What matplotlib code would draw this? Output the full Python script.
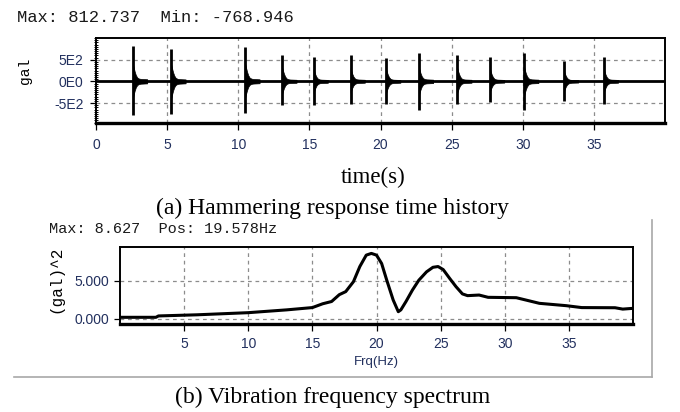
import matplotlib
matplotlib.use("Agg")
import matplotlib.pyplot as plt
from matplotlib.ticker import MultipleLocator
from matplotlib.lines import Line2D

# ---------------- data ----------------
# (a) time history: impact spikes
spike_t = [2.6, 5.3, 10.5, 13.1, 15.3, 17.9, 20.4, 22.7, 25.4, 27.7, 30.1, 32.9, 35.7]
spike_up = [812.7, 750, 795, 614, 568, 614, 545, 660, 614, 568, 660, 477, 568]
spike_dn = [-768.9, -760, -727, -545, -545, -523, -523, -660, -523, -477, -660, -455, -523]
# decay envelope after each impact (time offset s, fraction of peak)
tail_dt = [0.0, 0.06, 0.12, 0.2, 0.3, 0.42, 0.55, 1.0]
tail_rel = [0.5, 0.38, 0.28, 0.18, 0.11, 0.08, 0.07, 0.06]
t_range = [0, 40]
time_xticks = [0, 5, 10, 15, 20, 25, 30, 35]
time_yticks = [-500, 0, 500]
time_ylabels = ["-5E2", "0E0", "5E2"]

# (b) spectrum
freq = [0.0, 2.8, 3.0, 6.0, 10.0, 13.0, 15.0, 15.8, 16.5, 17.1, 17.6, 18.2, 18.7, 19.2,
        19.6, 20.0, 20.4, 20.8, 21.3, 21.7, 21.9, 22.3, 22.8, 23.3, 23.9, 24.4, 24.8,
        25.2, 25.7, 26.2, 26.7, 27.1, 28.0, 28.7, 30.9, 32.7, 34.8, 36.0, 38.6, 39.2, 40.0]
power = [0.22, 0.22, 0.40, 0.55, 0.83, 1.20, 1.50, 2.00, 2.30, 3.20, 3.60, 4.90, 6.90, 8.40,
         8.627, 8.40, 7.30, 5.10, 2.50, 0.96, 1.20, 2.30, 3.80, 5.10, 6.20, 6.80, 6.90,
         6.50, 5.35, 4.25, 3.30, 3.07, 3.15, 2.85, 2.80, 2.06, 1.75, 1.50, 1.48, 1.30, 1.40]
freq_xticks = [5, 10, 15, 20, 25, 30, 35]
freq_yticks = [0, 5]
freq_ylabels = ["0.000", "5.000"]

tick_color = "#22305e"
grid_kw = dict(color="#8c8c8c", linestyle=(0, (3, 3)), linewidth=0.9)

fig = plt.figure(figsize=(6.8, 4.12), dpi=100)
fig.patch.set_facecolor("white")

# ---------------- (a) ----------------
ax1 = fig.add_axes([96/680, 1-123/412, (665-96)/680, (123-38)/412])
ax1.set_xlim(*t_range)
ax1.set_ylim(-960, 1000)
for x in time_xticks[1:]:
    ax1.axvline(x, **grid_kw, zorder=1)
for y in [500, -500]:
    ax1.axhline(y, **grid_kw, zorder=1)
ax1.plot(t_range, [0, 0], color="black", lw=2.0, zorder=3)
for t, up, dn in zip(spike_t, spike_up, spike_dn):
    ax1.vlines(t, dn, up, color="black", lw=2.0, zorder=4)
    tt = [t + d for d in tail_dt]
    ax1.fill_between(tt, [r * dn for r in tail_rel], [r * up for r in tail_rel],
                     color="black", lw=0.5, zorder=4)
ax1.set_xticks(time_xticks)
ax1.set_xticklabels([str(v) for v in time_xticks])
ax1.set_yticks(time_yticks)
ax1.set_yticklabels(time_ylabels)
ax1.yaxis.set_minor_locator(MultipleLocator(50))
ax1.tick_params(axis="y", which="minor", direction="inout", length=3, width=0.7)
ax1.tick_params(axis="x", which="major", labelsize=10, labelcolor=tick_color,
                length=5, width=0.9, pad=6)
ax1.tick_params(axis="y", which="major", labelsize=10, labelcolor=tick_color,
                length=4, width=0.9, pad=5)
for lab in ax1.get_xticklabels() + ax1.get_yticklabels():
    lab.set_family("Liberation Sans")
for s in ["top", "right", "left"]:
    ax1.spines[s].set_linewidth(1.4)
ax1.spines["bottom"].set_linewidth(2.4)
fig.text(17/680, 1-18/412, "Max: 812.737  Min: -768.946", family="Liberation Mono",
         fontsize=12.3, va="center", ha="left", color="#1a1a1a")
fig.text(25/680, 1-71/412, "gal", family="Liberation Mono", fontsize=10.5,
         rotation=90, va="center", ha="center")
fig.text(373/680, 1-177/412, "time(s)", family="Liberation Serif", fontsize=16.5,
         va="center", ha="center")
fig.text(332/680, 1-208/412, "(a) Hammering response time history",
         family="Liberation Serif", fontsize=17, va="center", ha="center")

# ---------------- (b) ----------------
ax2 = fig.add_axes([120/680, 1-324/412, (633-120)/680, (324-247)/412])
ax2.set_xlim(0, 40)
ax2.set_ylim(-0.66, 9.47)
for x in freq_xticks:
    ax2.axvline(x, **grid_kw, zorder=1)
for y in freq_yticks:
    ax2.axhline(y, **grid_kw, zorder=1)
ax2.plot(freq, power, color="black", lw=2.2, zorder=3, solid_joinstyle="round")
ax2.set_xticks(freq_xticks)
ax2.set_xticklabels([str(v) for v in freq_xticks])
ax2.set_yticks(freq_yticks)
ax2.set_yticklabels(freq_ylabels)
ax2.tick_params(axis="x", which="major", labelsize=10, labelcolor=tick_color,
                length=5, width=0.9, pad=4)
ax2.tick_params(axis="y", which="major", labelsize=10, labelcolor=tick_color,
                length=4, width=0.9, pad=4)
for lab in ax2.get_xticklabels() + ax2.get_yticklabels():
    lab.set_family("Liberation Sans")
for s in ["top", "right", "left"]:
    ax2.spines[s].set_linewidth(1.4)
ax2.spines["bottom"].set_linewidth(2.4)
fig.text(49/680, 1-229/412, "Max: 8.627  Pos: 19.578Hz", family="Liberation Mono",
         fontsize=11, va="center", ha="left", color="#1a1a1a")
fig.text(56/680, 1-279/412, "(gal)^2", family="Liberation Mono", fontsize=11.5,
         rotation=90, va="center", ha="center")
fig.text(376/680, 1-362/412, "Frq(Hz)", family="Liberation Sans", fontsize=9.5,
         color=tick_color, va="center", ha="center")
fig.text(333/680, 1-397/412, "(b) Vibration frequency spectrum",
         family="Liberation Serif", fontsize=17, va="center", ha="center")

# light frame lines around (b)
fig.add_artist(Line2D([14/680, 652/680], [1-377/412, 1-377/412], color="#a8a8a8", lw=1.2))
fig.add_artist(Line2D([652/680, 652/680], [1-220/412, 1-377/412], color="#a8a8a8", lw=1.2))

fig.savefig("out.png", dpi=100, facecolor="white")
